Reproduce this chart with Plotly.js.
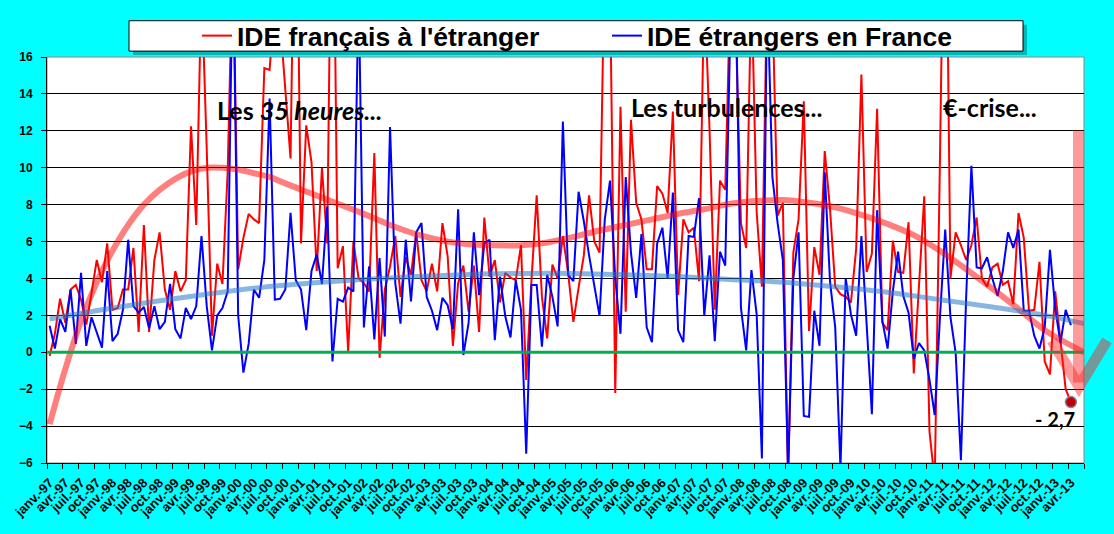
<!DOCTYPE html>
<html>
<head>
<meta charset="utf-8">
<script src="https://cdn.plot.ly/plotly-3.0.1.min.js"></script>
<style>
  html, body { margin: 0; padding: 0; background: #00ffff; }
  #chart { width: 1114px; height: 534px; }
</style>
</head>
<body>
<div id="chart"></div>
<script>
// mois (étiquettes de l'axe des x)
var moisNoms = ['janv.', 'févr.', 'mars', 'avr.', 'mai', 'juin', 'juil.', 'août', 'sept.', 'oct.', 'nov.', 'déc.'];
var annees = ['97', '98', '99', '00', '01', '02', '03', '04', '05', '06', '07', '08', '09', '10', '11', '12', '13'];
var nbMoisAxe = 198; // janv.-97 -> juin-13

// IDE français à l'étranger (mensuel, janv.-97 -> avr.-13)
var ideFrancais = [
  -0.2, 1.0, 2.9, 1.6, 3.4, 3.65, 2.85, 1.5, 3.2, 5.0, 3.8, 5.9,
  2.3, 2.4, 3.4, 3.4, 5.65, 1.1, 6.9, 1.1, 5.0, 6.5, 3.4, 2.3,
  4.4, 3.3, 3.9, 12.25, 6.9, 20, 11, 0.9, 4.8, 3.7, 9.8, 22,
  4.5, 6.2, 7.5, 7.2, 7.0, 15.4, 15.3, 19, 18, 14.4, 10.5, 30,
  5.9, 12.3, 10.3, 4.4, 10.0, 5.9, 30, 4.55, 5.75, 0.05, 6.0, 4.0,
  3.75, 3.3, 10.8, -0.3, 3.4, 4.65, 6.3, 3.0, 5.15, 4.2, 6.5, 3.9,
  3.3, 4.8, 3.3, 7.0, 5.2, 0.35, 3.75, 4.7, 2.2, 4.7, 1.1, 7.3,
  4.1, 5.0, 2.7, 4.3, 4.05, 3.9, 5.8, -1.5, 3.9, 8.5, 3.0, 0.75,
  4.75, 4.0, 6.3, 4.3, 1.65, 3.5, 5.25, 8.5, 6.0, 5.4, 22, 20,
  -2.2, 13.3, 2.2, 12.6, 8.1, 7.2, 4.5, 4.5, 9.0, 8.6, 7.55, 13.05,
  3.1, 7.2, 6.5, 6.75, 3.85, 20, 12.1, 2.3, 9.3, 8.8, 20, 18,
  7.0, 5.65, 20, 7.6, 3.55, 20, 19, 7.4, 8.1, -7, 5.4, 7.2,
  13.6, 1.15, 5.7, 4.2, 10.9, 7.8, 3.55, 3.15, 3.0, 2.7, 5.6, 15.05,
  4.35, 5.35, 13.2, 1.6, 1.2, 6.05, 4.35, 4.3, 7.05, -1.15, 3.5, 8.45,
  -4.3, -7, 10.5, 30, 4.0, 6.5, 5.8, 5.0, 5.8, 7.3, 4.0, 3.55,
  4.6, 4.8, 3.65, 3.85, 2.6, 7.55, 6.2, 2.25, 2.3, 4.9, -0.5, -1.2,
  3.3, 0.55, -2.0, -2.7
];

// IDE étrangers en France (mensuel, janv.-97 -> avr.-13)
var ideEtrangers = [
  1.44, 0.2, 1.8, 1.1, 3.4, 0.45, 4.3, 0.35, 1.9, 1.1, 0.25, 4.4,
  0.6, 1.0, 2.3, 6.1, 2.5, 2.15, 2.45, 1.3, 2.5, 1.25, 1.65, 3.7,
  1.25, 0.75, 2.4, 1.8, 2.5, 6.3, 2.5, 0.1, 2.0, 2.4, 3.3, 22,
  2.0, -1.1, 0.45, 3.4, 2.95, 5.0, 13.75, 2.85, 2.9, 3.4, 7.55, 3.9,
  3.4, 1.2, 4.4, 5.3, 3.7, 7.9, -0.5, 2.9, 2.75, 3.5, 3.3, 20,
  1.35, 4.65, 0.7, 5.1, 0.85, 12.2, 3.75, 1.55, 6.1, 2.75, 6.5, 7.0,
  3.0, 2.25, 1.2, 2.95, 2.55, 1.25, 7.75, -0.15, 1.6, 6.5, 3.1, 5.9,
  6.1, 0.65, 4.1, 1.95, 0.8, 3.9, 2.3, -5.5, 3.65, 3.65, 0.3, 4.2,
  3.0, 1.4, 12.5, 4.2, 3.85, 8.7, 7.1, 5.25, 3.5, 1.97, 7.2, 9.3,
  4.0, 1.0, 9.5, 5.4, 2.95, 6.4, 1.35, 0.55, 5.9, 6.75, 4.0, 8.65,
  1.2, 0.55, 6.3, 6.25, 8.35, 1.97, 5.25, 0.6, 5.45, 4.7, 18, 20,
  2.4, 0.1, 4.45, 2.05, -5.75, 20, 9.5, 7.0, 5.0, -6.5, 4.0, 6.5,
  -3.45, -3.5, 2.25, 0.35, 9.75, 3.85, 1.35, -6.3, 4.0, 2.05, 0.9, 6.3,
  1.5, -3.35, 7.7, 1.7, 0.2, 3.3, 5.45, 3.05, 2.15, -0.35, 0.5, 0.1,
  -1.5, -3.4, 1.9, 6.65, 1.9, -0.05, -5.85, 3.0, 10.1, 4.6, 4.55, 5.15,
  4.0, 3.05, 4.4, 6.5, 5.65, 6.65, 2.25, 2.25, 0.9, 0.2, 1.35, 5.55,
  2.4, 0.5, 2.3, 1.47
];

// courbes de tendance (indice du mois, valeur)
var tendanceFrMois = [0, 3, 6, 9, 12, 15, 18, 21, 24, 27, 30, 33, 36, 39, 42, 45, 50, 55, 60, 65, 70, 75,
  80, 85, 90, 95, 100, 105, 110, 115, 120, 125, 130, 135, 140, 145, 150, 155, 160, 165, 170, 175, 180, 185, 190, 197.5];
var tendanceFrValeurs = [-3.9, -0.9, 1.7, 3.8, 5.5, 6.9, 8.0, 8.8, 9.4, 9.8, 10.0, 10.0, 9.9, 9.7, 9.5, 9.15, 8.6, 8.05, 7.5, 6.9, 6.4, 6.05,
  5.85, 5.8, 5.8, 5.95, 6.25, 6.6, 6.9, 7.2, 7.5, 7.75, 8.05, 8.2, 8.25, 8.1, 7.85, 7.45, 6.95, 6.35, 5.5, 4.5, 3.45, 2.35, 1.2, 0.0];
var tendanceEtrMois = [0, 10, 20, 30, 40, 50, 60, 70, 80, 90, 100, 110, 120, 130, 140, 150, 160, 170, 180, 190, 197.5];
var tendanceEtrValeurs = [1.8, 2.3, 2.75, 3.15, 3.5, 3.75, 3.95, 4.1, 4.22, 4.27, 4.27, 4.2, 4.1, 3.95, 3.8, 3.55, 3.25, 2.85, 2.45, 2.0, 1.55];

var derniereValeurTexte = '- 2,7';

// étiquettes de mois et position des graduations (une sur trois)
var etiquettes = [];
for (var i = 0; i < nbMoisAxe; i++) {
  etiquettes.push(moisNoms[i % 12] + '-' + annees[Math.floor(i / 12)]);
}
var tickVals = [], tickText = [];
for (var j = 0; j < nbMoisAxe; j += 3) {
  tickVals.push(j);
  tickText.push(etiquettes[j]);
}
var indices = ideFrancais.map(function(v, i) { return i; });
var dernier = ideFrancais.length - 1;

// pixels -> coordonnées "paper" (zone de tracé : x 47..1084, y 49..463)
function px(X) { return (X - 47) / 1037; }
function py(Y) { return (463 - Y) / 414; }

var police = 'Liberation Sans, Arial, sans-serif';
var policeTexte = 'Lato, Open Sans, sans-serif';

var data = [
  {
    x: indices, y: ideFrancais, type: 'scatter', mode: 'lines',
    name: 'IDE français à l\'étranger',
    line: {color: '#ff0000', width: 2}, hoverinfo: 'skip'
  },
  {
    x: indices, y: ideEtrangers, type: 'scatter', mode: 'lines',
    name: 'IDE étrangers en France',
    line: {color: '#0000ff', width: 2}, hoverinfo: 'skip'
  },
  {
    x: tendanceFrMois, y: tendanceFrValeurs, type: 'scatter', mode: 'lines',
    showlegend: false, line: {color: 'rgba(255,0,0,0.5)', width: 6, shape: 'spline'}, hoverinfo: 'skip'
  },
  {
    x: tendanceEtrMois, y: tendanceEtrValeurs, type: 'scatter', mode: 'lines',
    showlegend: false, line: {color: 'rgba(40,120,200,0.55)', width: 5, shape: 'spline'}, hoverinfo: 'skip'
  },
  {
    x: [indices[dernier]], y: [ideFrancais[dernier]], type: 'scatter', mode: 'markers',
    showlegend: false, marker: {color: '#c00000', size: 11, line: {color: '#7f86a8', width: 1.5}}, hoverinfo: 'skip'
  }
];

var layout = {
  width: 1114,
  height: 534,
  paper_bgcolor: '#00ffff',
  plot_bgcolor: '#ffffff',
  margin: {l: 47, r: 30, t: 49, b: 71},
  showlegend: true,
  legend: {
    orientation: 'h', x: px(197), xanchor: 'left', y: 1.052, yanchor: 'middle',
    bgcolor: 'rgba(0,0,0,0)', borderwidth: 0,
    font: {family: police, size: 26.5, weight: 'bold', color: '#000'},
    entrywidth: 365, entrywidthmode: 'pixels'
  },
  xaxis: {
    range: [-0.5, nbMoisAxe - 0.5],
    tickmode: 'array', tickvals: tickVals, ticktext: tickText,
    tickangle: -45, ticks: '', ticklabelstandoff: 6,
    tickfont: {family: police, size: 13, weight: 'bold', color: '#000'},
    showgrid: false, zeroline: false,
    showline: true, linecolor: '#000', linewidth: 1,
    minor: {ticks: 'outside', ticklen: 5, tickcolor: '#000', tick0: -0.5, dtick: 3, showgrid: false}
  },
  yaxis: {
    range: [-6, 16], tick0: 0, dtick: 2,
    ticks: 'outside', ticklen: 5, tickcolor: '#000', ticklabelstandoff: 6,
    tickfont: {family: police, size: 12, weight: 'bold', color: '#000'},
    showgrid: true, gridcolor: '#000', gridwidth: 1, zeroline: false,
    showline: true, linecolor: '#000', linewidth: 1
  },
  shapes: [
    // cadre de la zone de tracé
    {type: 'rect', xref: 'paper', yref: 'paper', x0: 0, x1: 1, y0: 0, y1: 1,
      line: {color: '#888', width: 1}, layer: 'below'},
    // ligne du zéro (au-dessus des courbes)
    {type: 'line', xref: 'paper', yref: 'y', x0: 0, x1: 1, y0: 0, y1: 0,
      line: {color: '#00b050', width: 3}, layer: 'above'},
    // ombre et cadre de la légende
    {type: 'rect', xref: 'paper', yref: 'paper', x0: px(133), x1: px(1027), y0: py(47), y1: py(16),
      fillcolor: 'rgba(0,0,0,0.28)', line: {width: 0}, layer: 'below'},
    {type: 'rect', xref: 'paper', yref: 'paper', x0: px(129), x1: px(1023), y0: py(43), y1: py(12),
      fillcolor: '#ffffff', line: {color: '#000', width: 1}, layer: 'below'},
    // flèche vers le bas
    {type: 'rect', xref: 'paper', yref: 'paper', x0: px(1073), x1: px(1084), y0: py(381), y1: py(124),
      fillcolor: 'rgba(255,30,30,0.45)', line: {width: 0}, layer: 'above'},
    {type: 'path', xref: 'paper', yref: 'paper',
      path: 'M ' + px(1052) + ',' + py(338) + ' L ' + px(1079) + ',' + py(385) + ' L ' + px(1107) + ',' + py(338),
      line: {color: 'rgba(255,30,30,0.45)', width: 11}, layer: 'above'}
  ],
  annotations: [
    {x: 47.8, y: 13.15, xref: 'x', yref: 'y', text: 'Les <i>35 heures...</i>', showarrow: false,
      font: {family: policeTexte, size: 25, weight: 'bold', color: '#000'}},
    {x: 129.2, y: 13.27, xref: 'x', yref: 'y', text: 'Les turbulences...', showarrow: false,
      font: {family: policeTexte, size: 25, weight: 'bold', color: '#000'}},
    {x: 179.6, y: 13.27, xref: 'x', yref: 'y', text: '€-crise...', showarrow: false,
      font: {family: policeTexte, size: 25, weight: 'bold', color: '#000'}},
    {x: 191.9, y: -3.6, xref: 'x', yref: 'y', text: derniereValeurTexte, showarrow: false,
      font: {family: policeTexte, size: 20, weight: 'bold', color: '#000'}}
  ]
};

Plotly.newPlot('chart', data, layout, {displayModeBar: false, staticPlot: true});
</script>
</body>
</html>
